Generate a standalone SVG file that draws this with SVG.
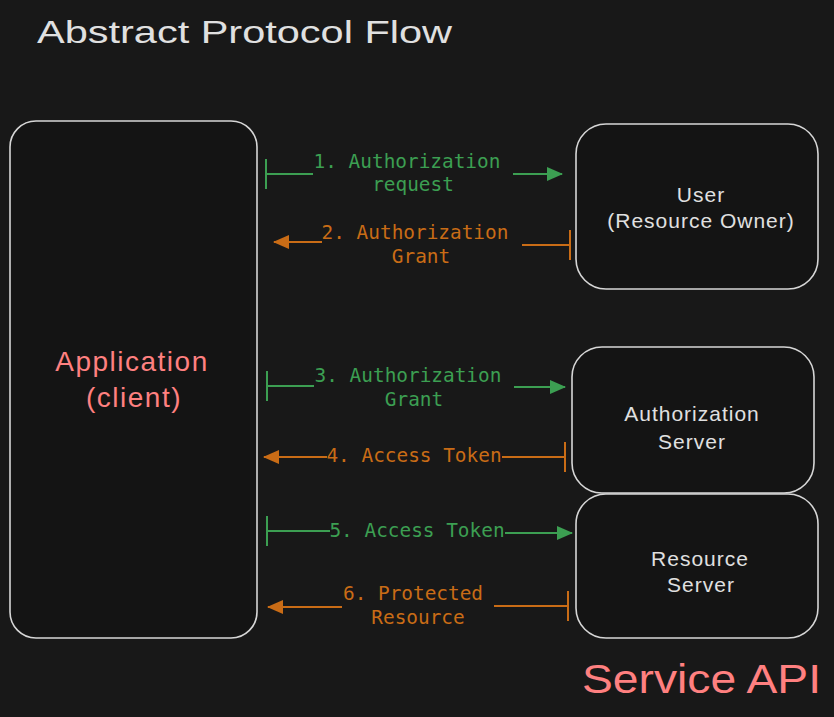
<svg xmlns="http://www.w3.org/2000/svg" width="834" height="717" viewBox="0 0 834 717">
<style>
.bg{fill:#181818}
.box{fill:#141414;stroke:#d6d6d6;stroke-width:1.6}
.hand{font-family:"Liberation Sans","DejaVu Sans",sans-serif;fill:#e0e0e0}
.node{font-size:21px;letter-spacing:1px;text-anchor:middle}
.red{fill:#ff8080}
.lbl{font-family:"DejaVu Sans Mono","Liberation Mono",monospace;font-size:19.4px;text-anchor:middle}
.g{fill:#3c9f52}
.o{fill:#c96c16}
.lg{stroke:#3c9f52;stroke-width:2;fill:none}
.lo{stroke:#c96c16;stroke-width:2;fill:none}
.mid{text-anchor:middle}
</style>
<defs>
<marker id="arrG" viewBox="0 0 16 14" markerUnits="userSpaceOnUse" markerWidth="16" markerHeight="14" refX="15" refY="7" orient="auto"><path d="M0,0 L16,7 L0,14 Z" fill="#3c9f52"/></marker>
<marker id="arrO" viewBox="0 0 16 14" markerUnits="userSpaceOnUse" markerWidth="16" markerHeight="14" refX="15" refY="7" orient="auto"><path d="M0,0 L16,7 L0,14 Z" fill="#c96c16"/></marker>
<marker id="tickG" viewBox="0 0 4 30" markerUnits="userSpaceOnUse" markerWidth="4" markerHeight="30" refX="2" refY="15" orient="auto"><line x1="2" y1="0" x2="2" y2="30" stroke="#3c9f52" stroke-width="2"/></marker>
<marker id="tickO" viewBox="0 0 4 30" markerUnits="userSpaceOnUse" markerWidth="4" markerHeight="30" refX="2" refY="15" orient="auto"><line x1="2" y1="0" x2="2" y2="30" stroke="#c96c16" stroke-width="2"/></marker>
</defs>
<rect class="bg" x="0" y="0" width="834" height="717"/>
<text class="hand" x="37" y="43" font-size="32" textLength="415" lengthAdjust="spacingAndGlyphs">Abstract Protocol Flow</text>

<g id="application">
<rect class="box" x="10" y="121" width="247" height="517" rx="26"/>
<text class="hand red mid" font-size="28" letter-spacing="1.5" x="132" y="371">Application</text>
<text class="hand red mid" font-size="28" letter-spacing="1.5" x="134" y="407">(client)</text>
</g>
<g id="user">
<rect class="box" x="576" y="124" width="242" height="165" rx="30"/>
<text class="hand node" x="701" y="202">User</text>
<text class="hand node" x="701" y="228">(Resource Owner)</text>
</g>
<g id="authorization-server">
<rect class="box" x="572" y="347" width="242" height="146" rx="30"/>
<text class="hand node" x="692" y="421">Authorization</text>
<text class="hand node" x="692" y="449">Server</text>
</g>
<g id="resource-server">
<rect class="box" x="576" y="494" width="242" height="144" rx="30"/>
<text class="hand node" x="700" y="566">Resource</text>
<text class="hand node" x="701" y="592">Server</text>
</g>

<g id="connectors">
<path class="lg" d="M266,174 L313,174" marker-start="url(#tickG)"/>
<path class="lg" d="M513,174 L562,174" marker-end="url(#arrG)"/>
<path class="lo" d="M570,245 L522,245" marker-start="url(#tickO)"/>
<path class="lo" d="M322,242 L274,242" marker-end="url(#arrO)"/>
<path class="lg" d="M267,386 L314,386" marker-start="url(#tickG)"/>
<path class="lg" d="M514,387 L565,387" marker-end="url(#arrG)"/>
<path class="lo" d="M565,457 L502,457" marker-start="url(#tickO)"/>
<path class="lo" d="M327,457 L264,457" marker-end="url(#arrO)"/>
<path class="lg" d="M267,531 L330,531" marker-start="url(#tickG)"/>
<path class="lg" d="M505,533 L572,533" marker-end="url(#arrG)"/>
<path class="lo" d="M568,606 L494,606" marker-start="url(#tickO)"/>
<path class="lo" d="M342,607 L268,607" marker-end="url(#arrO)"/>
</g>
<g id="labels">
<text class="lbl g" x="407" y="168">1. Authorization</text>
<text class="lbl g" x="413" y="191">request</text>
<text class="lbl o" x="415" y="239">2. Authorization</text>
<text class="lbl o" x="421" y="263">Grant</text>
<text class="lbl g" x="408" y="382">3. Authorization</text>
<text class="lbl g" x="414" y="406">Grant</text>
<text class="lbl o" x="414" y="462">4. Access Token</text>
<text class="lbl g" x="417" y="537">5. Access Token</text>
<text class="lbl o" x="413" y="600">6. Protected</text>
<text class="lbl o" x="418" y="624">Resource</text>
</g>
<text class="hand red" x="582" y="693" font-size="40" textLength="239" lengthAdjust="spacingAndGlyphs">Service API</text>
</svg>
